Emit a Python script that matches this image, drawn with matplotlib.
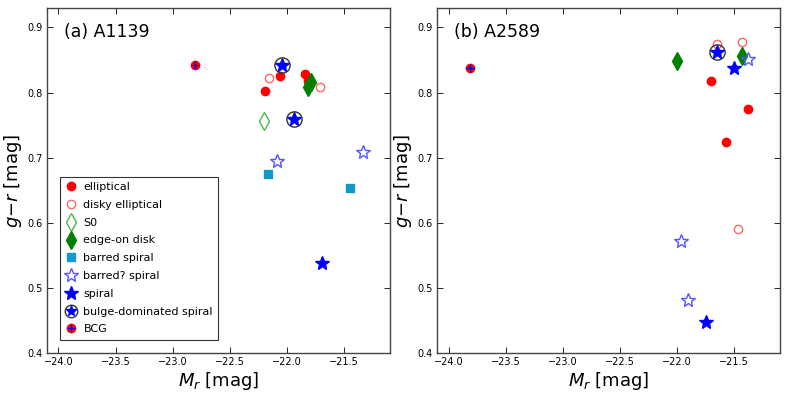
import matplotlib
matplotlib.use("Agg")
import matplotlib.pyplot as plt
from matplotlib.lines import Line2D

# A1139
a_ell_x = [-22.06, -22.19, -21.84, -21.815]
a_ell_y = [0.826, 0.803, 0.828, 0.818]
a_dell_x = [-22.156, -21.707]
a_dell_y = [0.823, 0.808]
a_s0_x = [-22.205]
a_s0_y = [0.756]
a_edge_x = [-21.79, -21.82]
a_edge_y = [0.817, 0.808]
a_bar_x = [-22.167, -21.445]
a_bar_y = [0.675, 0.654]
a_barq_x = [-22.086, -21.337]
a_barq_y = [0.695, 0.708]
a_sp_x = [-21.695]
a_sp_y = [0.539]
a_bulge_x = [-22.039, -21.934]
a_bulge_y = [0.842, 0.759]
a_bcg_x = [-22.805]
a_bcg_y = [0.842]

# A2589
b_ell_x = [-21.704, -21.378, -21.573]
b_ell_y = [0.818, 0.775, 0.724]
b_dell_x = [-21.652, -21.427, -21.462]
b_dell_y = [0.875, 0.878, 0.590]
b_s0_x = []
b_s0_y = []
b_edge_x = [-22.0, -21.427]
b_edge_y = [0.849, 0.856]
b_bar_x = []
b_bar_y = []
b_barq_x = [-21.383, -21.966, -21.905]
b_barq_y = [0.852, 0.572, 0.482]
b_sp_x = [-21.503, -21.745]
b_sp_y = [0.838, 0.448]
b_bulge_x = [-21.652]
b_bulge_y = [0.863]
b_bcg_x = [-23.808]
b_bcg_y = [0.838]

xticks = [-24.0, -23.5, -23.0, -22.5, -22.0, -21.5]
yticks = [0.4, 0.5, 0.6, 0.7, 0.8, 0.9]

fig = plt.figure(figsize=(7.89, 3.98), dpi=100)
ax1 = fig.add_axes([0.0596, 0.113, 0.4344, 0.867])
ax2 = fig.add_axes([0.554, 0.113, 0.4344, 0.867])


def panel(ax, d, title, legend=False):
    ax.plot(d['ell'][0], d['ell'][1], 'o', color='red', mec='red', ms=6, ls='none', label='elliptical')
    ax.plot(d['dell'][0], d['dell'][1], 'o', mfc='none', mec='#ff6666', ms=6, ls='none', label='disky elliptical')
    ax.plot(d['s0'][0], d['s0'][1], 'd', mfc='none', mec='#44bb44', ms=9, ls='none', label='S0')
    ax.plot(d['edge'][0], d['edge'][1], 'd', color='green', mec='green', ms=9, ls='none', label='edge-on disk')
    ax.plot(d['bar'][0], d['bar'][1], 's', color='#1199cc', mec='#1199cc', ms=6, ls='none', label='barred spiral')
    ax.plot(d['barq'][0], d['barq'][1], '*', mfc='none', mec='#5555ff', ms=10, ls='none', label='barred? spiral')
    ax.plot(d['sp'][0], d['sp'][1], '*', color='blue', mec='blue', ms=10, ls='none', label='spiral')
    # bulge-dominated: star inside open circle
    ax.plot(d['bulge'][0], d['bulge'][1], 'o', mfc='none', mec='#333333', ms=11, ls='none')
    ax.plot(d['bulge'][0], d['bulge'][1], '*', color='blue', mec='blue', ms=10, ls='none')
    ax.plot(d['bcg'][0], d['bcg'][1], 'o', color='red', mec='red', ms=6, ls='none')
    ax.plot(d['bcg'][0], d['bcg'][1], '+', color='blue', ms=6, mew=1, ls='none')
    ax.set_xlim(-24.1, -21.1)
    ax.set_ylim(0.4, 0.93)
    ax.set_xticks(xticks)
    ax.set_yticks(yticks)
    ax.set_xticklabels(['\u2212%.1f' % abs(v) for v in xticks], fontsize=7)
    ax.set_yticklabels(['%.1f' % v for v in yticks], fontsize=7)
    ax.tick_params(direction='in', top=True, right=True, length=4, width=0.6, pad=3)
    for s in ax.spines.values():
        s.set_color('#444444')
        s.set_linewidth(1.0)
    ax.set_xlabel('$M_r$ [mag]', fontsize=13, labelpad=2)
    ax.set_ylabel('$g{-}r$ [mag]', fontsize=13)
    ax.yaxis.set_label_coords(-0.068, 0.5)
    ax.text(0.05, 0.955, title, transform=ax.transAxes, fontsize=12.5, va='top', ha='left')
    if legend:
        handles, labels = ax.get_legend_handles_labels()
        bulge_h = (Line2D([], [], marker='o', mfc='none', mec='#333333', ms=9, ls='none'),
                   Line2D([], [], marker='*', color='blue', mec='blue', ms=8, ls='none'))
        bcg_h = (Line2D([], [], marker='o', color='red', mec='red', ms=6, ls='none'),
                 Line2D([], [], marker='+', color='blue', ms=6, mew=1, ls='none'))
        handles += [bulge_h, bcg_h]
        labels += ['bulge-dominated spiral', 'BCG']
        leg = ax.legend(handles, labels, loc='lower left', bbox_to_anchor=(0.038, 0.038),
                        fontsize=8, numpoints=1, handlelength=1.0, handletextpad=0.6,
                        labelspacing=0.7, borderpad=0.5, fancybox=False, frameon=True,
                        borderaxespad=0)
        leg.get_frame().set_edgecolor('black')
        leg.get_frame().set_linewidth(0.8)


panel(ax1, dict(ell=(a_ell_x, a_ell_y), dell=(a_dell_x, a_dell_y), s0=(a_s0_x, a_s0_y),
                edge=(a_edge_x, a_edge_y), bar=(a_bar_x, a_bar_y), barq=(a_barq_x, a_barq_y),
                sp=(a_sp_x, a_sp_y), bulge=(a_bulge_x, a_bulge_y), bcg=(a_bcg_x, a_bcg_y)),
      '(a) A1139', legend=True)
panel(ax2, dict(ell=(b_ell_x, b_ell_y), dell=(b_dell_x, b_dell_y), s0=(b_s0_x, b_s0_y),
                edge=(b_edge_x, b_edge_y), bar=(b_bar_x, b_bar_y), barq=(b_barq_x, b_barq_y),
                sp=(b_sp_x, b_sp_y), bulge=(b_bulge_x, b_bulge_y), bcg=(b_bcg_x, b_bcg_y)),
      '(b) A2589')

fig.savefig('out.png', dpi=100)
